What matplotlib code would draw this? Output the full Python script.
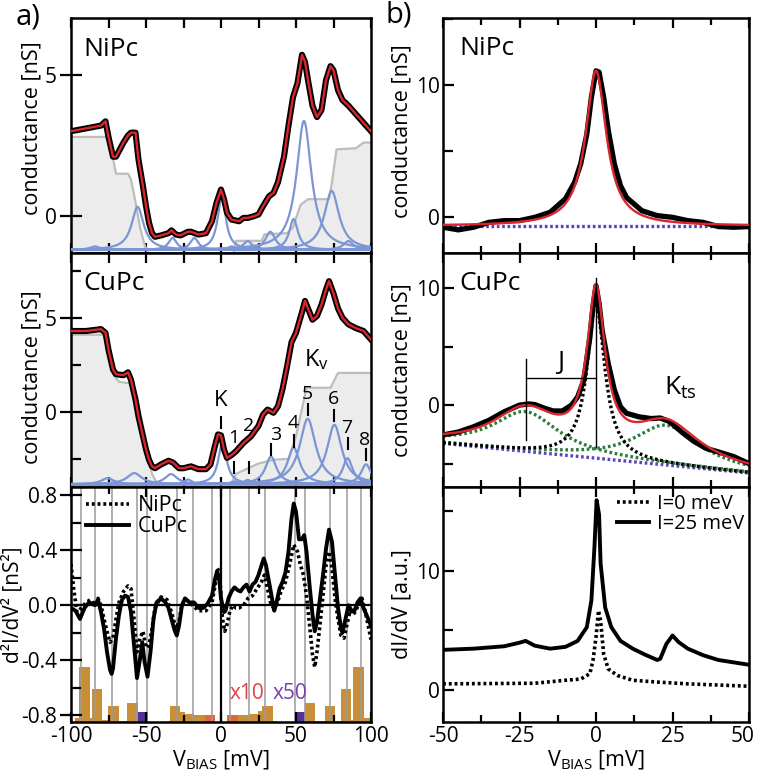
import numpy as np
import matplotlib
matplotlib.use("Agg")
import matplotlib.pyplot as plt
from matplotlib.ticker import MultipleLocator
from matplotlib.transforms import ScaledTranslation

plt.rcParams['font.family'] = ['Open Sans', 'DejaVu Sans']
plt.rcParams['mathtext.fontset'] = 'custom'
plt.rcParams['mathtext.rm'] = 'Open Sans'
plt.rcParams['mathtext.it'] = 'Open Sans:italic'
plt.rcParams['axes.linewidth'] = 1.8

############## DATA #############################################
# a) NiPc conductance [nS] vs bias [mV]
ni_v = [-100, -90, -80, -77, -75, -72, -70, -65, -62, -60, -57, -55, -52, -50, -48, -46, -44,
        -40, -35, -33, -30, -27, -22, -20, -15, -10, -6, -3, 0, 2, 4, 7, 12, 15, 18, 22, 25,
        28, 32, 35, 38, 42, 45, 48, 51, 54, 56, 58, 61, 64, 67, 70, 73, 75, 78, 81, 85, 90, 95, 100]
ni_g = [3.0, 3.1, 3.2, 3.35, 2.8, 2.1, 2.1, 2.6, 2.85, 2.95, 2.95, 2.0, 1.05, 0.35, -0.23, -0.6, -0.73,
        -0.68, -0.6, -0.5, -0.65, -0.68, -0.55, -0.55, -0.65, -0.6, -0.18, 0.47, 0.94, 0.6, 0.12, -0.12, -0.18, -0.06, -0.06, 0.0, 0.06,
        0.35, 0.7, 0.82, 1.2, 2.1, 3.2, 4.2, 4.7, 5.7, 5.45, 4.8, 3.9, 3.5, 3.75, 4.8, 5.3, 5.15, 4.45, 4.1, 3.9, 3.6, 3.3, 3.0]
ni_bg_v = [-100, -76, -73, -70, -62, -60, -57, -54, -51, -49, -47, 8, 10, 27, 29, 44, 48, 53, 58, 72, 74, 77, 90, 95, 100]
ni_bg_g = [2.8, 2.8, 2.3, 1.5, 1.5, 1.3, 0.5, -0.4, -1.0, -1.25, -1.4, -1.4, -0.87, -0.87, -0.64, -0.6, -0.4, 0.4, 0.6, 0.6, 1.2, 2.36, 2.4, 2.6, 2.6]
ni_pk_c = [-84, -55.6, -32.3, -17.8, 0.5, 7, 17.8, 32.9, 48.4, 55.3, 73.8, 84.9]
ni_pk_a = [0.12, 1.52, 0.42, 0.42, 1.88, 0.12, 0.31, 0.64, 1.09, 4.55, 2.08, 0.31]
ni_pk_w = [4, 4.9, 3.3, 3.3, 3.3, 3, 3.5, 4, 3.5, 6, 6, 4]
ni_base = -1.19

# a) CuPc conductance
cu_v = [-100, -90, -80, -77, -75, -72, -70, -65, -62, -60, -57, -55, -52, -50, -48, -46, -44,
        -40, -35, -32, -28, -25, -20, -15, -10, -7, -4, -2, 0, 2, 4, 7, 10, 15, 20, 25, 28, 31,
        35, 38, 41, 44, 47, 50, 54, 56, 58, 61, 64, 67, 70, 72, 75, 78, 81, 85, 90, 95, 100]
cu_g = [4.3, 4.3, 4.4, 4.2, 3.3, 2.25, 2.0, 1.95, 2.1, 1.7, 0.65, -0.25, -1.3, -2.0, -2.55, -2.9, -3.0,
        -2.8, -2.6, -2.7, -3.0, -3.0, -2.9, -3.05, -3.05, -2.8, -1.8, -1.2, -1.25, -2.0, -2.45, -2.3, -2.1, -1.65, -1.3, -0.75, -0.15, 0.12,
        -0.05, 0.3, 1.2, 2.4, 3.7, 4.2, 5.3, 5.9, 5.5, 4.9, 5.1, 5.7, 6.5, 6.95, 6.3, 5.5, 5.0, 4.65, 4.45, 4.3, 3.85]
cu_bg_v = [-100, -78, -75, -72, -68, -60, -57, -54, -51, -48, -46, -44, -40, 5, 10, 25, 35, 45, 50, 57, 73, 75, 78, 100]
cu_bg_g = [4.1, 4.1, 3.5, 2.0, 1.6, 1.5, 1.0, 0.0, -1.2, -2.5, -3.3, -3.6, -4.1, -4.1, -3.3, -2.75, -2.55, -2.5, -1.3, 1.28, 1.28, 1.6, 2.07, 2.07]
cu_pk_c = [-75.6, -57.8, -33.3, -22, 1.0, 8.9, 17.8, 33.3, 48.4, 57.8, 75.6, 84.4, 96.7]
cu_pk_a = [0.32, 0.59, 0.54, 0.25, 2.27, 0.15, 0.23, 1.47, 1.95, 3.48, 3.16, 1.38, 1.06]
cu_pk_w = [5, 6, 5, 3, 3.3, 3, 3, 4.5, 5, 6.5, 6, 4, 4]
cu_base = -3.85
mode_names = ['K', '1', '2', '3', '4', '5', '6', '7', '8']
mode_x = [0, 8.9, 18.9, 33.3, 48.4, 57.8, 75.6, 84.4, 96.7]
mode_tick_lo = [-0.87, -3.26, -3.26, -2.29, -1.85, -0.16, -0.5, -2.0, -2.56]
mode_txt_x = [0, 8.5, 18.5, 36.5, 47.8, 57.5, 75.2, 83.5, 95.8]
mode_txt_y = [0.6, -1.4, -0.78, -1.23, -0.6, 0.95, 0.7, -0.87, -1.49]

# a) second derivative [nS^2]
d2_ni_v = [-100, -98, -96, -93, -90, -87, -84, -82, -80, -78, -76, -74, -72, -70, -68, -65, -62, -60,
           -58, -56, -54, -52, -50, -48, -46, -44, -40, -36, -33, -30, -28, -26, -23, -20, -15, -10,
           -6, -4, -2.5, -1, 0, 1, 2.5, 4, 6, 8, 10, 12, 15, 18, 21, 24, 27, 29, 31, 33, 35, 37, 40,
           43, 46, 48.5, 51, 53, 55, 57, 59, 61, 62.5, 64, 66, 68, 70, 72, 74, 76, 78, 80, 82, 84, 86,
           88, 90, 92, 94, 96, 98, 100]
d2_ni = [0.3, 0.1, -0.05, -0.02, 0.02, 0.04, 0.0, 0.05, 0.0, -0.1, -0.19, -0.27, -0.24, -0.1, 0.02, 0.1, 0.14, 0.12,
         -0.1, -0.34, -0.24, -0.19, -0.31, -0.29, -0.17, -0.02, 0.06, 0.04, -0.05, -0.17, -0.12, 0.01, 0.04, 0.01, -0.04, -0.04,
         0.02, 0.14, 0.27, 0.24, 0.07, -0.1, -0.19, -0.14, -0.04, 0.0, -0.02, -0.02, 0.0, 0.05, 0.07, 0.12, 0.17, 0.22, 0.12, 0.02, -0.02, 0.0, 0.1,
         0.17, 0.31, 0.44, 0.39, 0.29, 0.22, 0.07, -0.14, -0.36, -0.45, -0.34, -0.14, 0.07, 0.29, 0.39, 0.27, 0.05, -0.1, -0.22, -0.24, -0.14, -0.04,
         -0.07, -0.04, 0.02, 0.05, -0.04, -0.14, -0.25]
d2_cu_v = [-100, -97, -94, -91, -88, -84, -82, -80, -78, -76, -74, -72.9, -72, -70, -68, -66, -64, -62,
           -60, -58, -56, -54, -52.5, -51, -49, -47, -45, -43, -40, -37, -35, -33, -31, -29.5, -28, -26,
           -24, -21, -18, -15, -12, -9, -6, -4, -2.5, -1, 0, 2, 3, 5, 7, 9, 11, 13, 15, 17, 19, 21, 23,
           25, 27, 28.5, 30, 32, 34, 35.5, 37, 39, 41, 43, 45, 47, 48.5, 50, 52, 54, 55.5, 57, 59, 61,
           62.5, 64, 66, 68, 70, 72, 74, 76, 78, 80, 81, 83, 85, 87, 89, 91, 93, 95, 97, 100]
d2_cu = [-0.02, -0.04, -0.1, -0.02, 0.02, 0.0, 0.04, -0.05, -0.17, -0.34, -0.47, -0.5, -0.46, -0.24, -0.07, 0.04, 0.07, 0.06,
         -0.05, -0.29, -0.53, -0.39, -0.27, -0.41, -0.52, -0.34, -0.1, 0.02, 0.05, 0.02, -0.02, -0.1, -0.18, -0.22, -0.15, 0.0,
         0.05, 0.02, 0.02, -0.02, -0.02, 0.01, 0.07, 0.19, 0.25, 0.17, 0.05, -0.05, -0.04, 0.05, 0.1, 0.13, 0.11, 0.1, 0.13, 0.15, 0.1, 0.15, 0.17,
         0.22, 0.29, 0.34, 0.29, 0.17, 0.05, -0.04, 0.02, 0.12, 0.17, 0.24, 0.39, 0.63, 0.74, 0.68, 0.48, 0.48, 0.51, 0.39, 0.15, -0.07,
         -0.19, -0.12, 0.05, 0.22, 0.41, 0.55, 0.46, 0.22, -0.02, -0.17, -0.2, -0.1, 0.0, -0.04, -0.04, 0.02, 0.05, -0.02, -0.07, -0.15]
mode_lines = [-93.4, -84.2, -72.8, -56.1, -49.3, -29.5, -18.5, -5.8,
              5.8, 18.5, 29.5, 49.3, 56.1, 72.8, 84.2, 93.4]
bar_lo = [-97.3, -94.7, -87.3, -86.2, -79.1, -75.5, -68.2, -62.4, -55.3, -36.2, -34.0, -27.3, -24.0, -18.0, -10.7,
          4.2, 11.3, 19.1, 24.7, 27.5, 34.7, 49.6, 56.2, 62.9, 69.1, 75.8, 80.2, 86.9, 88.0, 95.1]
bar_hi = [-94.7, -87.3, -86.2, -79.1, -75.5, -68.2, -62.4, -55.3, -48.7, -34.0, -27.3, -24.0, -18.0, -10.7, -4.0,
          11.3, 19.1, 24.7, 27.5, 34.7, 37.0, 56.2, 62.9, 69.1, 75.8, 80.2, 86.9, 88.0, 95.1, 99.0]
bar_top = [-0.82, -0.45, -0.82, -0.61, -0.835, -0.735, -0.84, -0.715, -0.78, -0.84, -0.735, -0.78, -0.793, -0.80, -0.80,
           -0.80, -0.80, -0.79, -0.77, -0.735, -0.84, -0.78, -0.715, -0.84, -0.735, -0.84, -0.61, -0.835, -0.45, -0.82]
bar_kind = ['o', 'o', 'o', 'o', 'o', 'o', 'o', 'o', 'p', 'o', 'o', 'o', 'o', 'o', 'r',
            'r', 'o', 'o', 'o', 'o', 'o', 'p', 'o', 'o', 'o', 'o', 'o', 'o', 'o', 'o']

# b) NiPc narrow range
bni_v = [-50, -45, -40, -35, -30, -25, -20, -15, -10, -7, -5, -3, -1.5, 0, 1, 2.5, 4, 6, 8, 10,
         15, 20, 25, 30, 35, 40, 45, 50]
bni_g = [-0.75, -0.95, -0.75, -0.38, -0.25, -0.25, 0.0, 0.38, 1.4, 2.65, 4.05, 6.3, 9.1, 11.1, 11.0, 9.1, 6.6, 4.05, 2.4, 1.5,
         0.5, 0.13, 0.0, -0.25, -0.38, -0.7, -0.75, -0.7]
bni_bg = -0.65
bni_fit = [0.0, 11.75, 4.1]   # centre, amplitude, half width

# b) CuPc narrow range
bcu_v = [-50, -45, -40, -35, -30, -25, -22, -20, -17, -14, -11, -8, -6, -4, -2, -1, 0, 1, 2, 4, 6, 8,
         10, 14, 18, 21, 24, 28, 32, 36, 40, 45, 50]
bcu_g = [-2.55, -2.3, -1.85, -1.3, -0.57, 0.0, 0.1, 0.05, -0.25, -0.5, -0.5, 0.0, 0.7, 2.1, 5.8, 8.4, 10.2, 8.7, 6.4, 3.55, 1.3, -0.15,
         -0.7, -1.0, -1.15, -1.1, -1.4, -2.3, -3.1, -3.7, -4.0, -4.4, -5.0]
bcu_bg_v = [-50, 50]
bcu_bg_g = [-3.27, -5.8]
bcu_kondo = [0.0, 13.2, 3.5]
bcu_side_c = [-23, 23]
bcu_side_a = [3.4, 3.4]
bcu_side_w = [13.0, 13.0]

# b) model dI/dV [a.u.]
sim_v1 = [-50, -40, -30, -25, -23, -20, -15, -10, -6, -3, -1.5, -0.5, 0.2, 1, 1.5, 3, 5, 8, 12, 16,
          20, 21, 23, 25, 27, 30, 35, 40, 45, 50]
sim_j25 = [3.35, 3.45, 3.65, 3.95, 4.1, 3.7, 3.45, 3.6, 4.1, 5.25, 7.5, 12.0, 15.9, 14.7, 10.6, 6.9, 5.25, 4.1, 3.45, 2.95,
           2.5, 2.6, 3.85, 4.55, 4.0, 3.45, 2.9, 2.5, 2.3, 2.1]
sim_v0 = [-50, -20, -10, -5, -2, -1, 0, 0.8, 1.5, 2.5, 4, 7, 12, 20, 30, 50]
sim_j0 = [0.5, 0.55, 0.8, 0.9, 1.35, 2.45, 4.4, 6.65, 5.8, 3.0, 1.75, 1.2, 0.8, 0.65, 0.5, 0.3]

############## STYLE #####################
BLUE = '#7c95d4'
RED = '#d8262c'
GREY_FILL = '#ececec'
GREY_LINE = '#bdbdbd'
PURPLE = '#5b43c0'
GREEN = '#2f7a3c'
BAR_COL = {'o': '#c98f38', 'p': '#55309a', 'r': '#e4643c'}
FS_TICK = 15
FS_LAB = 15.5
FS_NAME = 19
DOTS = (0, (0.8, 0.8))


def lorentz(x, c, a, w):
    return a / (1.0 + ((x - c) / w) ** 2)


def style(ax, xmajor, xminor, ymajor, yminor, left_col):
    ax.xaxis.set_major_locator(MultipleLocator(xmajor))
    ax.xaxis.set_minor_locator(MultipleLocator(xminor))
    ax.yaxis.set_major_locator(MultipleLocator(ymajor))
    ax.yaxis.set_minor_locator(MultipleLocator(yminor))
    ax.tick_params(axis='x', which='both', direction='in', top=True, bottom=True,
                   labelsize=FS_TICK, width=1.6, pad=3)
    ax.tick_params(axis='x', which='major', length=7)
    ax.tick_params(axis='x', which='minor', length=5)
    if left_col:
        ax.tick_params(axis='y', which='major', direction='inout', length=16, width=1.6,
                       labelsize=FS_TICK, pad=2)
    else:
        ax.tick_params(axis='y', which='major', direction='in', length=8, width=1.6,
                       labelsize=FS_TICK, pad=2)
    ax.tick_params(axis='y', which='minor', direction='in', length=7, width=1.6)


fig = plt.figure(figsize=(7.57, 7.82), dpi=100)
L0, LW = 71 / 757, 300 / 757
R0, RW = 443 / 757, 306 / 757
rows = [(0.6765, 0.3005), (0.3772, 0.2993), (0.0767, 0.3005)]

axa1 = fig.add_axes([L0, rows[0][0], LW, rows[0][1]])
axa2 = fig.add_axes([L0, rows[1][0], LW, rows[1][1]])
axa3 = fig.add_axes([L0, rows[2][0], LW, rows[2][1]])
axb1 = fig.add_axes([R0, rows[0][0], RW, rows[0][1]])
axb2 = fig.add_axes([R0, rows[1][0], RW, rows[1][1]])
axb3 = fig.add_axes([R0, rows[2][0], RW, rows[2][1]])

xx = np.linspace(-100, 100, 801)

# ---- a) NiPc
ax = axa1
ax.fill_between(ni_bg_v, ni_bg_g, -5, color=GREY_FILL, lw=0, zorder=1)
ax.plot(ni_bg_v, ni_bg_g, color=GREY_LINE, lw=1.6, zorder=2)
for c, a, w in zip(ni_pk_c, ni_pk_a, ni_pk_w):
    ax.plot(xx, ni_base + lorentz(xx, c, a, w), color=BLUE, lw=1.6, zorder=3)
ax.plot(ni_v, ni_g, color='black', lw=4.4, zorder=4)
ax.plot(ni_v, ni_g, color=RED, lw=1.7, zorder=5)
ax.set_xlim(-100, 100)
ax.set_ylim(-1.3, 7.0)
style(ax, 25, 25, 5, 5, True)
ax.set_xticklabels([])
ax.set_ylabel('conductance [nS]', fontsize=FS_LAB)
ax.yaxis.set_label_coords(-0.095, 0.53)
ax.text(0.04, 0.865, 'NiPc', transform=ax.transAxes, fontsize=FS_NAME, va='center')

# ---- a) CuPc
ax = axa2
ax.fill_between(cu_bg_v, cu_bg_g, -10, color=GREY_FILL, lw=0, zorder=1)
ax.plot(cu_bg_v, cu_bg_g, color=GREY_LINE, lw=1.6, zorder=2)
for c, a, w in zip(cu_pk_c, cu_pk_a, cu_pk_w):
    ax.plot(xx, cu_base + lorentz(xx, c, a, w), color=BLUE, lw=1.6, zorder=3)
ax.plot(cu_v, cu_g, color='black', lw=4.4, zorder=4)
ax.plot(cu_v, cu_g, color=RED, lw=1.7, zorder=5)
for name, mx, lo, tx, ty in zip(mode_names, mode_x, mode_tick_lo, mode_txt_x, mode_txt_y):
    ax.plot([mx, mx], [lo, lo + 0.6], color='black', lw=1.5, zorder=6)
    ax.text(tx, ty, name, fontsize=16 if name == 'K' else 14, ha='center', va='center', zorder=6)
ax.text(63.8, 2.78, r'K$_\mathregular{v}$', fontsize=17, ha='center', va='center')
ax.set_xlim(-100, 100)
ax.set_ylim(-4.0, 8.45)
style(ax, 25, 25, 5, 2.5, True)
ax.set_xticklabels([])
ax.set_ylabel('conductance [nS]', fontsize=FS_LAB)
ax.yaxis.set_label_coords(-0.095, 0.47)
ax.text(0.04, 0.87, 'CuPc', transform=ax.transAxes, fontsize=FS_NAME, va='center')

# ---- a) d2I/dV2
ax = axa3
for mv in mode_lines:
    ax.axvline(mv, color='#9a9a9a', lw=1.1, zorder=1)
ax.axhline(0, color='black', lw=1.6, zorder=2)
ax.axvline(0, color='black', lw=1.6, zorder=2)
for lo, hi, top, k in zip(bar_lo, bar_hi, bar_top, bar_kind):
    ax.bar(lo, top + 0.85, width=hi - lo, bottom=-0.85, align='edge',
           color=BAR_COL[k], lw=0, zorder=0.5)
ax.plot(d2_ni_v, d2_ni, color='black', lw=2.6, ls=DOTS, zorder=3, label='NiPc')
ax.plot(d2_cu_v, d2_cu, color='black', lw=2.8, zorder=4, label='CuPc')
ax.text(5.5, -0.64, 'x10', color='#e0404a', fontsize=15, va='center')
ax.text(34.7, -0.64, 'x50', color='#7a3fb0', fontsize=15, va='center')
ax.set_xlim(-100, 100)
ax.set_ylim(-0.85, 0.86)
style(ax, 50, 25, 0.4, 0.2, True)
ax.set_yticks([-0.8, -0.4, 0.0, 0.4, 0.8])
ax.set_yticklabels(['-0.8', '-0.4', '0.0', '0.4', '0.8'])
ax.set_xticks([-100, -50, 0, 50, 100])
ax.set_xticklabels(['-100', '-50', '0', '50', '100'])
ax.set_ylabel('d²I/dV² [nS²]', fontsize=15)
ax.yaxis.set_label_coords(-0.158, 0.5)
ax.set_xlabel(r'V$_\mathregular{BIAS}$ [mV]', fontsize=FS_LAB, labelpad=1)
ax.legend(loc='upper left', bbox_to_anchor=(0.0, 1.03), frameon=False, fontsize=15.5,
          handlelength=2.0, handletextpad=0.4, labelspacing=0.0, borderaxespad=0.3)

# ---- b) NiPc
xb = np.linspace(-50, 50, 801)
ax = axb1
ax.plot(bni_v, bni_g, color='black', lw=3.8, zorder=3)
ax.plot(xb, bni_bg + lorentz(xb, *bni_fit), color=RED, lw=1.7, zorder=4)
ax.plot([-50, 50], [bni_bg, bni_bg], color=PURPLE, lw=2.4, ls=DOTS, zorder=2)
ax.set_xlim(-50, 50)
ax.set_ylim(-2.7, 15.1)
style(ax, 25, 12.5, 10, 5, False)
ax.set_xticklabels([])
ax.set_ylabel('conductance [nS]', fontsize=FS_LAB)
ax.yaxis.set_label_coords(-0.1, 0.52)
ax.text(0.055, 0.87, 'NiPc', transform=ax.transAxes, fontsize=FS_NAME, va='center')

# ---- b) CuPc
ax = axb2
bg_line = np.interp(xb, bcu_bg_v, bcu_bg_g)
kondo = lorentz(xb, *bcu_kondo)
sides = [lorentz(xb, c, a, w) for c, a, w in zip(bcu_side_c, bcu_side_a, bcu_side_w)]
ax.plot(bcu_v, bcu_g, color='black', lw=3.8, zorder=3)
ax.plot(bcu_bg_v, bcu_bg_g, color=PURPLE, lw=2.4, ls=DOTS, zorder=2)
for s in sides:
    ax.plot(xb, bg_line + s, color=GREEN, lw=2.4, ls=DOTS, zorder=2)
ax.plot(xb, bg_line + kondo, color='black', lw=2.4, ls=DOTS, zorder=2)
ax.plot(xb, bg_line + kondo + sides[0] + sides[1], color=RED, lw=1.7, zorder=4)
ax.plot([-23, -23], [-2.98, 3.98], color='black', lw=1.0, zorder=5)
ax.plot([0, 0], [-3.55, 10.9], color='black', lw=1.0, zorder=5)
ax.plot([-23, 0], [2.33, 2.33], color='black', lw=1.0, zorder=5)
ax.text(-11.5, 3.6, 'J', fontsize=19, ha='center', va='center')
ax.text(27.5, 1.5, r'K$_\mathregular{ts}$', fontsize=19, ha='center', va='center')
ax.set_xlim(-50, 50)
ax.set_ylim(-7.0, 13.0)
style(ax, 25, 12.5, 10, 5, False)
ax.set_xticklabels([])
ax.set_ylabel('conductance [nS]', fontsize=FS_LAB)
ax.yaxis.set_label_coords(-0.1, 0.5)
ax.text(0.055, 0.87, 'CuPc', transform=ax.transAxes, fontsize=FS_NAME, va='center')

# ---- b) model
ax = axb3
ax.plot(sim_v0, sim_j0, color='black', lw=2.6, ls=DOTS, label='I=0 meV')
ax.plot(sim_v1, sim_j25, color='black', lw=2.8, label='I=25 meV')
ax.set_xlim(-50, 50)
ax.set_ylim(-2.7, 17.0)
style(ax, 25, 12.5, 10, 5, False)
ax.set_xticks([-50, -25, 0, 25, 50])
ax.set_xticklabels(['-50', '-25', '0', '25', '50'])
# last label sits at the figure edge, nudge it left a little
ax.get_xticklabels()[-1].set_transform(ax.get_xticklabels()[-1].get_transform()
                                       + ScaledTranslation(-6 / 100, 0, fig.dpi_scale_trans))
ax.set_ylabel('dI/dV [a.u.]', fontsize=FS_LAB)
ax.yaxis.set_label_coords(-0.1, 0.5)
ax.set_xlabel(r'V$_\mathregular{BIAS}$ [mV]', fontsize=FS_LAB, labelpad=1)
ax.legend(loc='upper right', bbox_to_anchor=(1.03, 1.03), frameon=False, fontsize=14.5,
          handlelength=1.6, handletextpad=0.4, labelspacing=0.0, borderaxespad=0.3)

fig.text(0.02, 0.997, 'a)', fontsize=21, va='top')
fig.text(0.509, 0.999, 'b)', fontsize=21, va='top')

plt.savefig('out.png', dpi=100)
